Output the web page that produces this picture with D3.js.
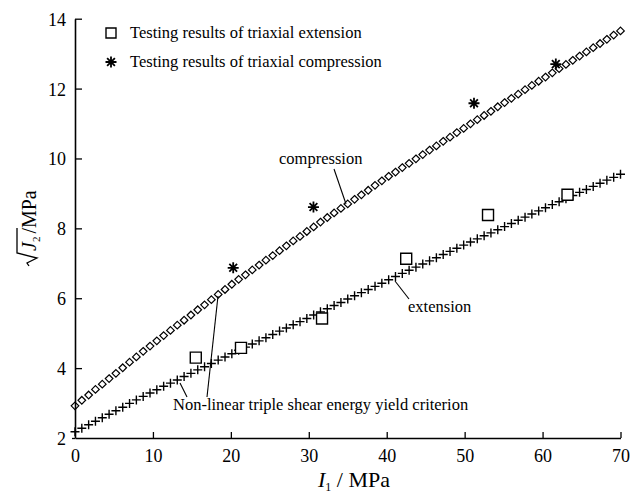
<!DOCTYPE html>
<html>
<head>
<meta charset="utf-8">
<script src="https://cdn.jsdelivr.net/npm/d3@7"></script>
<style>
    body { margin: 0; background: #fff; }
    svg text { font-family: 'Liberation Serif', 'Times New Roman', serif !important; fill: #000; }
</style>
</head>
<body>
<svg id="chart" width="630" height="494" style="font-family: 'Liberation Serif', serif"></svg>
<script>
/**
 * Data.
 */
const i1Grid = [0, 0.875, 1.75, 2.625, 3.5, 4.375, 5.25, 6.125, 7, 7.875, 8.75, 9.625, 10.5, 11.375, 12.25, 13.125,
    14, 14.875, 15.75, 16.625, 17.5, 18.375, 19.25, 20.125, 21, 21.875, 22.75, 23.625, 24.5, 25.375, 26.25, 27.125,
    28, 28.875, 29.75, 30.625, 31.5, 32.375, 33.25, 34.125, 35, 35.875, 36.75, 37.625, 38.5, 39.375, 40.25, 41.125,
    42, 42.875, 43.75, 44.625, 45.5, 46.375, 47.25, 48.125, 49, 49.875, 50.75, 51.625, 52.5, 53.375, 54.25, 55.125,
    56, 56.875, 57.75, 58.625, 59.5, 60.375, 61.25, 62.125, 63, 63.875, 64.75, 65.625, 66.5, 67.375, 68.25, 69.125, 70];

const compressionCurve = [2.92, 3.08, 3.23, 3.39, 3.54, 3.70, 3.85, 4.01, 4.17, 4.32, 4.48, 4.63, 4.78, 4.93, 5.08, 5.23,
    5.37, 5.52, 5.67, 5.81, 5.96, 6.11, 6.25, 6.40, 6.54, 6.67, 6.81, 6.95, 7.09, 7.22, 7.36, 7.50,
    7.64, 7.77, 7.91, 8.04, 8.18, 8.31, 8.44, 8.57, 8.70, 8.83, 8.96, 9.09, 9.23, 9.36, 9.49, 9.61,
    9.74, 9.86, 9.99, 10.11, 10.24, 10.36, 10.49, 10.61, 10.74, 10.86, 10.99, 11.11, 11.23, 11.35, 11.48, 11.60,
    11.72, 11.84, 11.97, 12.09, 12.21, 12.33, 12.45, 12.57, 12.69, 12.81, 12.93, 13.05, 13.17, 13.29, 13.41, 13.53, 13.65];

const extensionCurve = [2.18, 2.28, 2.38, 2.48, 2.58, 2.68, 2.78, 2.88, 2.99, 3.09, 3.19, 3.29, 3.38, 3.48, 3.57, 3.66,
    3.76, 3.85, 3.95, 4.04, 4.13, 4.23, 4.32, 4.41, 4.51, 4.60, 4.69, 4.78, 4.87, 4.96, 5.06, 5.15,
    5.24, 5.33, 5.42, 5.52, 5.61, 5.70, 5.79, 5.88, 5.98, 6.07, 6.16, 6.25, 6.34, 6.43, 6.53, 6.62,
    6.71, 6.80, 6.89, 6.98, 7.07, 7.16, 7.25, 7.34, 7.43, 7.52, 7.61, 7.70, 7.79, 7.87, 7.96, 8.05,
    8.14, 8.23, 8.32, 8.41, 8.50, 8.59, 8.68, 8.76, 8.85, 8.94, 9.03, 9.11, 9.20, 9.29, 9.38, 9.46, 9.55];

const extensionTestI1 = [15.5, 21.3, 31.7, 42.5, 53.0, 63.2],
    extensionTestJ2 = [4.30, 4.58, 5.42, 7.13, 8.38, 8.96];
const compressionTestI1 = [20.3, 30.6, 51.2, 61.7],
    compressionTestJ2 = [6.87, 8.61, 11.58, 12.70];

const xTicks = [0, 10, 20, 30, 40, 50, 60, 70],
    yTicks = [2, 4, 6, 8, 10, 12, 14];

const legendLabels = ['Testing results of triaxial extension', 'Testing results of triaxial compression'];

/**
 * Scales & containers.
 */
const serif = "'Liberation Serif', 'Times New Roman', serif";
const svg = d3.select('#chart');
const xScale = d3.scaleLinear().domain([0, 70]).range([75, 620.5]),
    yScale = d3.scaleLinear().domain([2, 14]).range([438, 18.7]);

const diamond = 'M0,-3.8L3.8,0L0,3.8L-3.8,0Z',
    plus = 'M-4.5,0H4.5M0,-4.5V4.5',
    square = 'M-5.5,-5.5H5.5V5.5H-5.5Z',
    star = d3.range(4).map(k => {
        const a = k * Math.PI / 4, r = 5.5;
        return 'M' + (r * Math.cos(a)) + ',' + (r * Math.sin(a)) + 'L' + (-r * Math.cos(a)) + ',' + (-r * Math.sin(a));
    }).join('');

/**
 * Axes.
 */
const xAxis = svg.append('g')
    .attr('transform', 'translate(0,' + yScale(2) + ')')
    .call(d3.axisBottom(xScale).tickValues(xTicks).tickSizeInner(-6).tickSizeOuter(0).tickPadding(11));
const yAxis = svg.append('g')
    .attr('transform', 'translate(' + xScale(0) + ',0)')
    .call(d3.axisLeft(yScale).tickValues(yTicks).tickSizeInner(-7).tickSizeOuter(0).tickPadding(9));

[xAxis, yAxis].forEach(a => {
    a.attr('font-family', serif).attr('font-size', 18);
    a.select('.domain').attr('stroke-width', 1.6);
    a.selectAll('.tick line').attr('stroke-width', 1.3);
});
yAxis.selectAll('.tick text').attr('dy', '0.36em');
xAxis.selectAll('.tick').filter(d => d === 0).select('line').remove();
yAxis.selectAll('.tick').filter(d => d === 2).select('line').attr('x2', -3);

/**
 * Curves (markers only).
 */
const curves = svg.append('g').attr('fill', 'none').attr('stroke', '#000');
curves.selectAll('.comp').data(i1Grid).enter().append('path')
    .attr('class', 'comp')
    .attr('transform', (d, i) => 'translate(' + xScale(d) + ',' + yScale(compressionCurve[i]) + ')')
    .attr('d', diamond)
    .attr('stroke-width', 1.2);
curves.selectAll('.ext').data(i1Grid).enter().append('path')
    .attr('class', 'ext')
    .attr('transform', (d, i) => 'translate(' + xScale(d) + ',' + yScale(extensionCurve[i]) + ')')
    .attr('d', plus)
    .attr('stroke-width', 1.4);

/**
 * Test points.
 */
const tests = svg.append('g').attr('fill', 'none').attr('stroke', '#000');
tests.selectAll('.sq').data(extensionTestI1).enter().append('path')
    .attr('class', 'sq')
    .attr('transform', (d, i) => 'translate(' + xScale(d) + ',' + yScale(extensionTestJ2[i]) + ')')
    .attr('d', square)
    .attr('fill', '#fff')
    .attr('stroke-width', 1.4);
tests.selectAll('.st').data(compressionTestI1).enter().append('path')
    .attr('class', 'st')
    .attr('transform', (d, i) => 'translate(' + xScale(d) + ',' + yScale(compressionTestJ2[i]) + ')')
    .attr('d', star)
    .attr('stroke-width', 1.8);

/**
 * Legend.
 */
const legend = svg.append('g').attr('font-family', serif);
legend.append('path').attr('transform', 'translate(111,33)').attr('d', 'M-5,-5H5V5H-5Z')
    .attr('fill', 'none').attr('stroke', '#000').attr('stroke-width', 1.4);
legend.append('path').attr('transform', 'translate(111,62)').attr('d', star)
    .attr('fill', 'none').attr('stroke', '#000').attr('stroke-width', 1.8);
legend.selectAll('text').data(legendLabels).enter().append('text')
    .attr('x', 130).attr('y', (d, i) => 38 + i * 29)
    .attr('font-size', 16.5)
    .text(d => d);

/**
 * Annotations.
 */
const notes = svg.append('g').attr('font-family', serif).attr('font-size', 16.5);
notes.append('text').attr('x', 279).attr('y', 164).text('compression');
notes.append('text').attr('x', 408).attr('y', 312).text('extension');
notes.append('text').attr('x', 173).attr('y', 410).text('Non-linear triple shear energy yield criterion');

const leaders = [
    [334, 169, 346, 204],
    [409, 299, 395, 281],
    [218, 296, 207, 397],
    [180, 383, 187, 397]
];
notes.selectAll('line').data(leaders).enter().append('line')
    .attr('x1', d => d[0]).attr('y1', d => d[1]).attr('x2', d => d[2]).attr('y2', d => d[3])
    .attr('stroke', '#000').attr('stroke-width', 1.1);

/**
 * Axis titles.
 */
const xTitle = svg.append('text').attr('x', 318).attr('y', 487)
    .attr('font-family', serif).attr('font-size', 22);
xTitle.append('tspan').style('font-style', 'italic').text('I');
xTitle.append('tspan').attr('dy', 4).attr('font-size', 12).text('1');
xTitle.append('tspan').attr('dy', -4).text(' / MPa');

const yTitle = svg.append('g').attr('transform', 'translate(36,222) rotate(-90)');
yTitle.append('path')
    .attr('d', 'M-44,-7L-41,-9L-36,1L-31,-19H-6')
    .attr('fill', 'none').attr('stroke', '#000').attr('stroke-width', 1.3);
const yText = yTitle.append('text').attr('x', -29).attr('y', 0)
    .attr('font-family', serif).attr('font-size', 20);
yText.append('tspan').style('font-style', 'italic').text('J');
yText.append('tspan').attr('dy', 4).attr('font-size', 11).text('2');
yText.append('tspan').attr('dy', -4).attr('dx', 3).text('/MPa');
</script>
</body>
</html>
